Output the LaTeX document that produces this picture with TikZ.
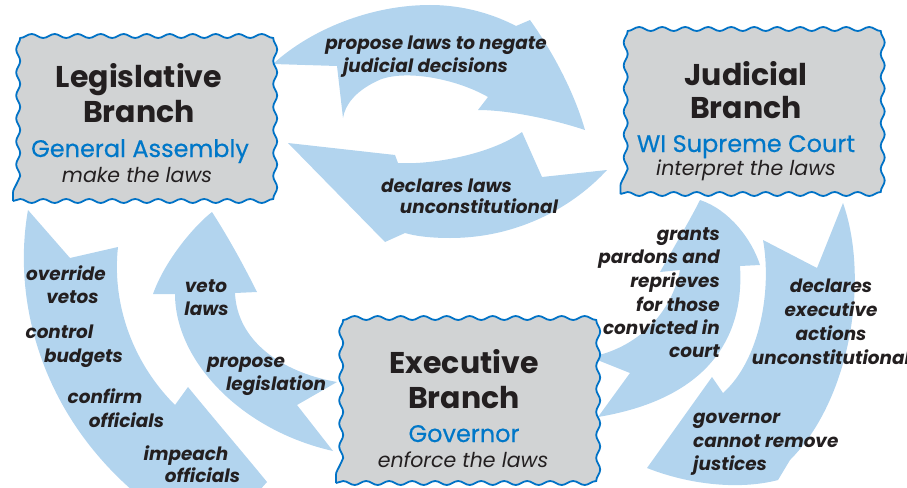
\documentclass[tikz,border=0pt]{standalone}
\usepackage{fontspec}
\setmainfont{Poppins}
\newfontfamily\medfam{Poppins}[FakeBold=0.35]
\usetikzlibrary{decorations.pathmorphing}
\definecolor{arrowblue}{RGB}{178,212,238}
\definecolor{boxgray}{RGB}{209,211,212}
\definecolor{borderblue}{RGB}{0,114,198}
\definecolor{textblue}{RGB}{0,119,200}
\definecolor{textdark}{RGB}{35,31,32}
\begin{document}
\begin{tikzpicture}[x=1pt,y=-1pt,
  branchbox/.style={draw=borderblue, line width=1.8pt, fill=boxgray, decorate,
    decoration={snake, segment length=23pt, amplitude=2pt},
    minimum width=254pt, minimum height=160pt, inner sep=0pt},
  ttl/.style={font=\fontsize{30}{30}\selectfont\bfseries, text=textdark, inner sep=0pt, anchor=base},
  sub/.style={font=\fontsize{24}{24}\selectfont\medfam, text=textblue, inner sep=0pt, anchor=base},
  duty/.style={font=\fontsize{20.5}{20.5}\selectfont\itshape, text=textdark, inner sep=0pt, anchor=base},
  lab/.style={font=\fontsize{18.4}{18.4}\selectfont\bfseries\itshape, text=textdark, inner sep=0pt, anchor=base},
  blockarrow/.style={fill=arrowblue}]
\useasboundingbox (0,0) rectangle (907,487);
\clip (0,0) rectangle (907,487);

% top arrow: legislative -> judicial
\path[blockarrow] (273,64) .. controls (310,30) and (370,5) .. (430,5)
  .. controls (465,5) and (495,15) .. (516,26) -- (530,20)
  .. controls (555,55) and (575,95) .. (585,130)
  .. controls (555,120) and (510,110) .. (478,110) -- (488,97)
  .. controls (455,78) and (400,68) .. (375,82)
  .. controls (355,92) and (345,105) .. (343,118) -- (337,66) -- cycle;
% bottom arrow: judicial -> legislative
\path[blockarrow] (288,143) -- (395,155) -- (398,163)
  .. controls (430,165) and (490,155) .. (522,132) -- (542,177) -- (607,170)
  .. controls (575,205) and (520,238) .. (450,238)
  .. controls (430,238) and (415,236) .. (405,233) -- (385,242) -- cycle;
% left outer arrow: legislative -> executive
\path[blockarrow] (28,210) -- (70,258) -- (118,247)
  .. controls (112,300) and (130,360) .. (175,405) -- (188,387)
  .. controls (215,420) and (245,455) .. (267,482) -- (215,540) -- (150,505)
  .. controls (40,420) and (12,300) .. cycle;
% left inner arrow: executive -> legislative
\path[blockarrow] (212,212) .. controls (230,240) and (245,268) .. (257,292) -- (235,293)
  .. controls (237,340) and (280,372) .. (337,382) -- (297,405) -- (333,451)
  .. controls (240,430) and (175,360) .. (175,294) -- (153,294)
  .. controls (165,260) and (195,225) .. cycle;
% right inner arrow: executive -> judicial
\path[blockarrow] (700,200) .. controls (730,210) and (752,240) .. (760,265) -- (740,266)
  .. controls (745,345) and (700,400) .. (598,417) -- (630,373) -- (590,357)
  .. controls (630,350) and (670,320) .. (680,270) -- (660,272)
  .. controls (675,245) and (690,220) .. cycle;
% right outer arrow: judicial -> executive
\path[blockarrow] (843,203) .. controls (870,280) and (850,400) .. (790,460) -- (778,480)
  .. controls (740,490) and (690,485) .. (647,468) -- (712,377) -- (723,393)
  .. controls (760,360) and (772,290) .. (763,240) -- (817,268) -- cycle;

% boxes
\node[branchbox] (leg) at (140,121) {};
\node[branchbox] (jud) at (747.5,114) {};
\node[branchbox] (exe) at (463,403) {};

\node[ttl] (legA) at (139,87) {Legislative};
\node[ttl] (legB) at (139,122) {Branch};
\node[sub] (legC) at (140,157) {General Assembly};
\node[duty] (legD) at (137,182) {make the laws};

\node[ttl] (judA) at (746,85) {Judicial};
\node[ttl] (judB) at (746,118) {Branch};
\node[sub] (judC) at (746,152) {WI Supreme Court};
\node[duty] (judD) at (746,175) {interpret the laws};

\node[ttl] (exeA) at (464,373) {Executive};
\node[ttl] (exeB) at (464,408) {Branch};
\node[sub] (exeC) at (464,442) {Governor};
\node[duty] (exeD) at (463,467) {enforce the laws};

% labels
\node[lab] (t1) at (436,50) {propose laws to negate};
\node[lab] (t2) at (425.5,73) {judicial decisions};
\node[lab] (t3) at (446.5,192) {declares laws};
\node[lab] (t4) at (479,213) {unconstitutional};

\node[lab] (l1) at (66,280) {override};
\node[lab] (l2) at (72.5,303) {vetos};
\node[lab] (l3) at (59.5,338) {control};
\node[lab] (l4) at (83.5,362) {budgets};
\node[lab] (l5) at (105,403) {confirm};
\node[lab] (l6) at (126.5,427) {officials};
\node[lab] (l7) at (186,460) {impeach};
\node[lab] (l8) at (202.5,482) {officials};

\node[lab] (v1) at (206,292) {veto};
\node[lab] (v2) at (206.5,315) {laws};
\node[lab] (v3) at (246,367) {propose};
\node[lab] (v4) at (276,390) {legislation};

\node[lab, anchor=base east] (g1) at (720,240) {grants};
\node[lab, anchor=base east] (g2) at (720,263.5) {pardons and};
\node[lab, anchor=base east] (g3) at (720,287) {reprieves};
\node[lab, anchor=base east] (g4) at (720,311) {for those};
\node[lab, anchor=base east] (g5) at (720,334) {convicted in};
\node[lab, anchor=base east] (g6) at (720,357) {court};

\node[lab] (d1) at (831,292) {declares};
\node[lab] (d2) at (831,316) {executive};
\node[lab] (d3) at (831,340) {actions};
\node[lab] (d4) at (831,364) {unconstitutional};

\node[lab, anchor=base west] (n1) at (693,423) {governor};
\node[lab, anchor=base west] (n2) at (693,447) {cannot remove};
\node[lab, anchor=base west] (n3) at (693,470) {justices};
\end{tikzpicture}
\end{document}
